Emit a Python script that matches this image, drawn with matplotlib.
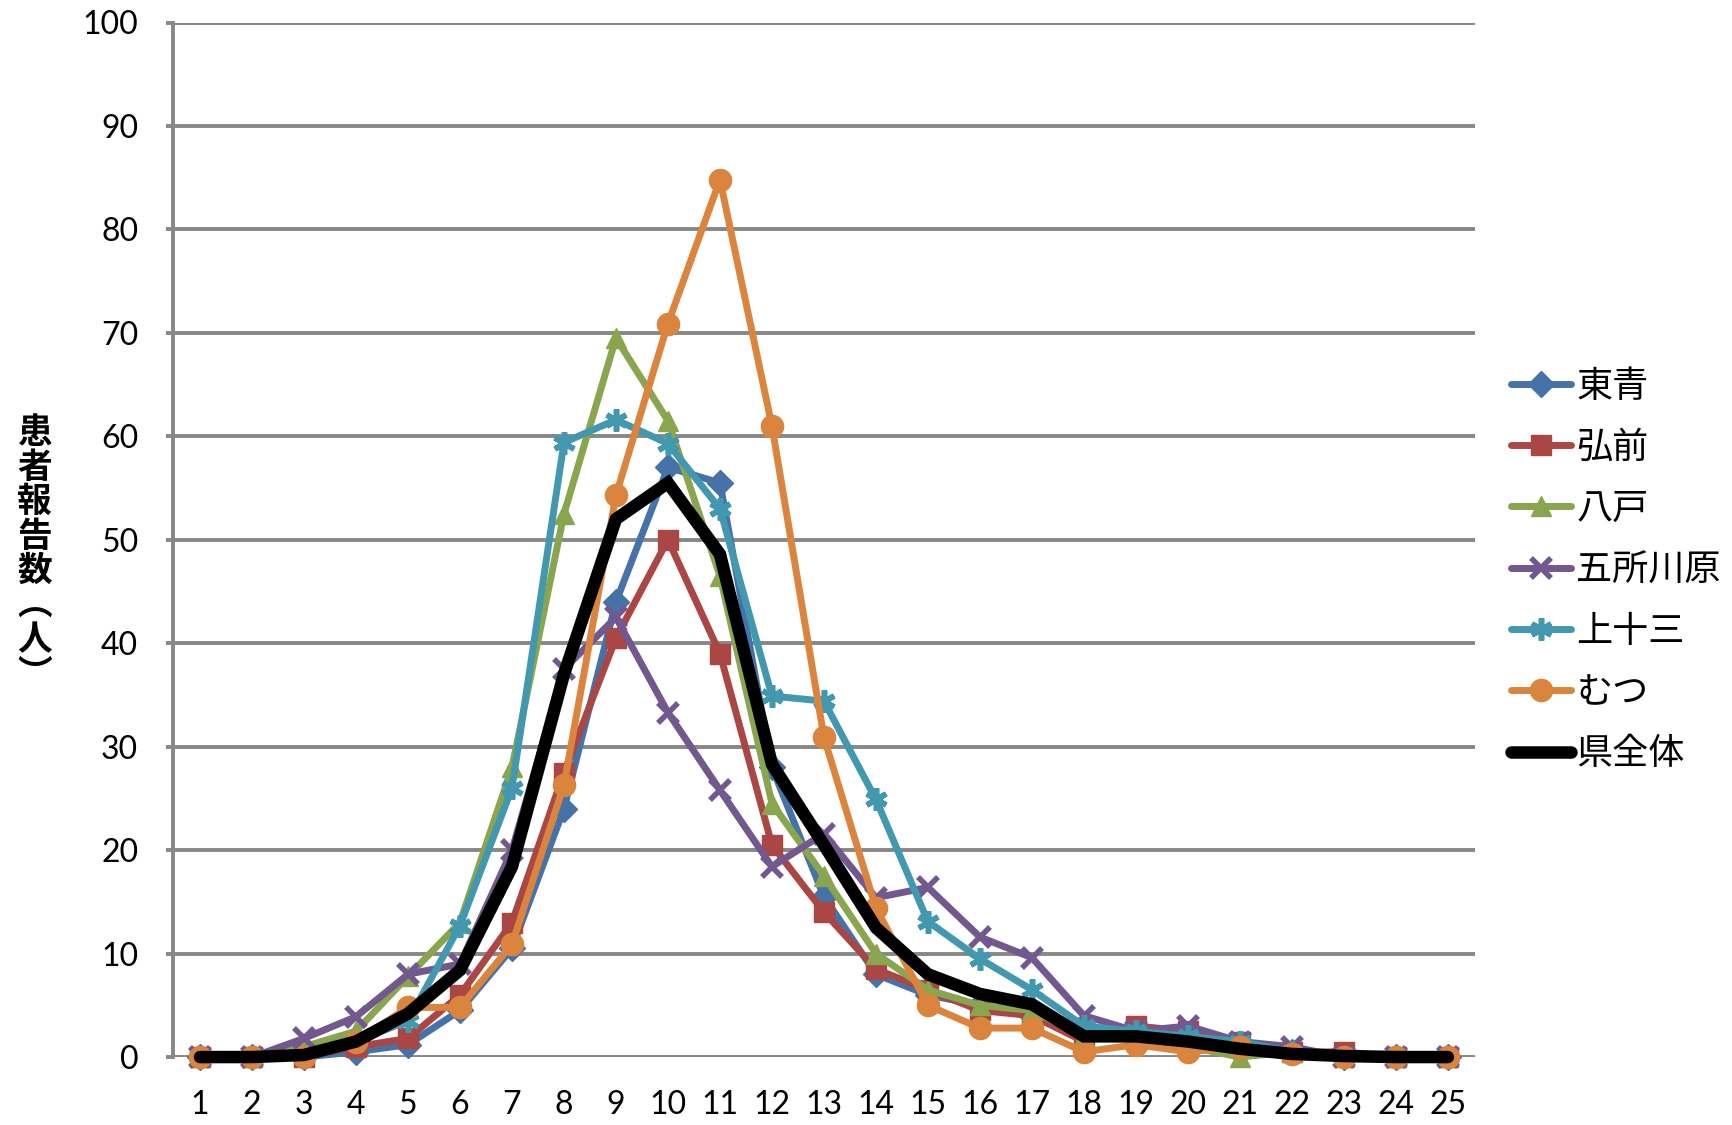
import matplotlib
matplotlib.use("Agg")
import matplotlib.pyplot as plt

weeks = list(range(1, 26))
touse = [0, 0, 0, 0.5, 1.2, 4.5, 10.5, 24, 44, 57, 55.5, 28, 15.5, 8, 6, 5, 4, 2, 2, 2, 0.5, 0.5, 0, 0, 0]
hirosaki = [0, 0, 0, 1, 1.8, 6, 13, 27.5, 40.5, 50, 39, 20.5, 14, 8.5, 6.5, 4.5, 4, 1.5, 3, 2.5, 1.5, 0.5, 0.5, 0, 0]
hachinohe = [0, 0, 1, 2.5, 7.8, 13, 28, 52.5, 69.5, 61.5, 46.5, 24.5, 17.5, 10, 6.5, 5, 4.5, 2, 2, 1, 0, 0.5, 0, 0, 0]
goshogawara = [0, 0, 1.8, 3.9, 8, 9, 20, 37.5, 42.5, 33.3, 25.8, 18.4, 21.6, 15.4, 16.4, 11.6, 9.6, 4, 2.5, 3, 1.5, 1, 0, 0, 0]
kamitosan = [0, 0, 0, 1.5, 3.5, 12.7, 26, 59.4, 61.6, 59.3, 53, 34.9, 34.4, 24.9, 13.1, 9.5, 6.5, 3, 2.5, 2, 1.5, 0.5, 0, 0, 0]
mutsu = [0, 0, 0, 1.5, 4.8, 4.8, 10.9, 26.3, 54.3, 70.9, 84.8, 61, 30.9, 14.4, 5, 2.8, 2.8, 0.5, 1.2, 0.5, 1, 0.3, 0, 0, 0]
prefecture = [0, 0, 0.2, 1.5, 4.2, 8.4, 18.4, 37, 52, 55.5, 48.6, 28.3, 20.5, 12.5, 8, 6.1, 5.1, 2, 2, 1.5, 0.8, 0.3, 0.1, 0, 0]

names = ["東青", "弘前", "八戸", "五所川原", "上十三", "むつ", "県全体"]
ylabel = "患者報告数︵人︶"
yticks = list(range(0, 101, 10))

series = [touse, hirosaki, hachinohe, goshogawara, kamitosan, mutsu]
colors = ["#4572A7", "#AA4643", "#89A54E", "#71588F", "#4198AF", "#DB843D"]
markers = ["D", "s", "^", "x", (6, 2, 0), "o"]
msizes = [13, 14, 15, 15, 16, 16]

plt.rcParams['font.family'] = ['Lato', 'Noto Sans CJK JP', 'DejaVu Sans']

fig = plt.figure(figsize=(17.33, 11.25), dpi=100)
ax = fig.add_axes([0.0998, 0.0604, 0.7513, 0.9196])

for vals, c, m, ms, name in zip(series, colors, markers, msizes, names):
    mew = 4 if m in ("x",) or isinstance(m, tuple) else 1
    ax.plot(weeks, vals, color=c, lw=5, marker=m, markersize=ms,
            markerfacecolor=c, markeredgecolor=c, markeredgewidth=mew,
            label=name, solid_joinstyle='round', solid_capstyle='round', zorder=3)
ax.plot(weeks, prefecture, color="black", lw=9, label=names[6],
        solid_joinstyle='miter', solid_capstyle='round', zorder=4)

ax.set_xlim(0.48, 25.52)
ax.set_ylim(0, 100)
ax.set_yticks(yticks)
ax.set_xticks(weeks)
ax.set_yticklabels([str(v) for v in yticks])

gray = "#878787"
ax.grid(axis='y', color=gray, lw=2.8, zorder=1)
ax.set_axisbelow(True)
for s in ["top", "right", "bottom"]:
    ax.spines[s].set_visible(False)
ax.spines["left"].set_color(gray)
ax.spines["left"].set_linewidth(2.8)
ax.tick_params(axis='y', direction='out', length=5, width=2.8, color=gray,
               pad=20, labelsize=23)
ax.tick_params(axis='x', length=0, pad=24, labelsize=23)
for ln in ax.lines:
    ln.set_clip_on(False)

fig.text(0.020, 0.508, "\n".join(ylabel), fontsize=25, fontweight='bold',
         family=['Noto Sans CJK JP'], ha='center', va='center', linespacing=0.98)

leg = fig.legend(loc='center left', bbox_to_anchor=(0.872, 0.493),
                 frameon=False, prop={'family': ['Noto Sans CJK JP'], 'size': 26},
                 handlelength=1.65, handletextpad=0.15, labelspacing=0.7,
                 borderpad=0, borderaxespad=0)

fig.savefig("out.png", dpi=100)
